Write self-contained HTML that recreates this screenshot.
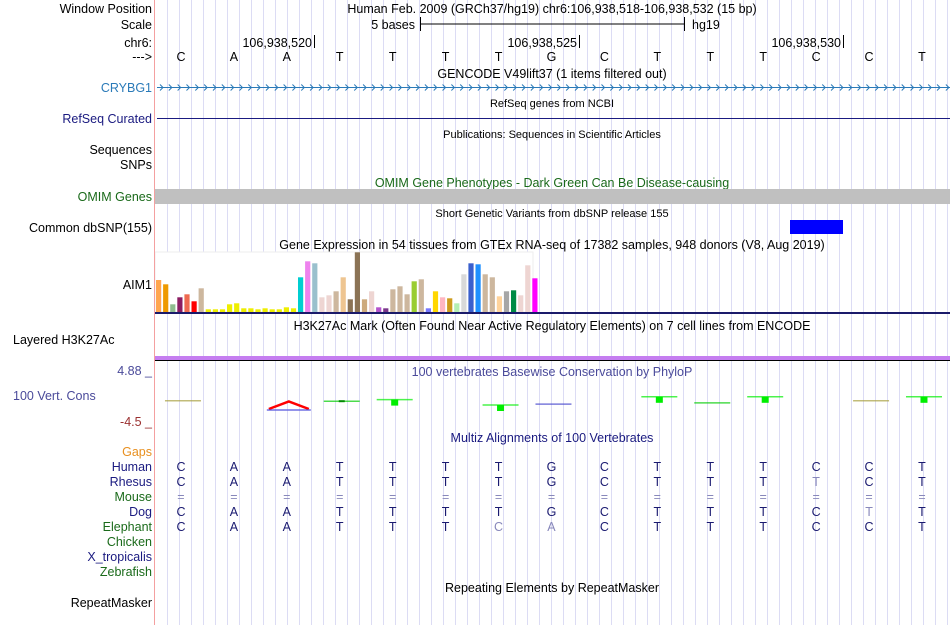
<!DOCTYPE html>
<html><head><meta charset="utf-8">
<style>
html,body{margin:0;padding:0;background:#fff;}
svg{display:block;font-family:"Liberation Sans",sans-serif;}
</style></head>
<body>
<svg id="root" width="950" height="625" viewBox="0 0 950 625" xmlns="http://www.w3.org/2000/svg">
<g id="grid"></g>
<rect x="155" y="252" width="378" height="60" fill="#fff" stroke="#eee"/>
<line x1="154.5" y1="0" x2="154.5" y2="625" stroke="#f4a0a0" stroke-width="1"/>

<g font-size="12.5" text-anchor="end" fill="#000">
<text x="152" y="13">Window Position</text>
<text x="152" y="29">Scale</text>
<text x="152" y="47">chr6:</text>
<text x="152" y="61">---&gt;</text>
<text x="152" y="92" fill="#2a7ab8">CRYBG1</text>
<text x="152" y="123" fill="#1a1a80">RefSeq Curated</text>
<text x="152" y="154">Sequences</text>
<text x="152" y="169">SNPs</text>
<text x="152" y="201" fill="#1a6a1a">OMIM Genes</text>
<text x="152" y="232">Common dbSNP(155)</text>
<text x="152" y="289">AIM1</text>
<text x="152" y="456" fill="#e89020">Gaps</text>
<text x="152" y="471" fill="#1a1a80">Human</text>
<text x="152" y="486" fill="#1a1a80">Rhesus</text>
<text x="152" y="501" fill="#1a6a1a">Mouse</text>
<text x="152" y="516" fill="#1a1a80">Dog</text>
<text x="152" y="531" fill="#1a6a1a">Elephant</text>
<text x="152" y="546" fill="#1a6a1a">Chicken</text>
<text x="152" y="561" fill="#1a1a80">X_tropicalis</text>
<text x="152" y="576" fill="#1a6a1a">Zebrafish</text>
<text x="152" y="607">RepeatMasker</text>
<text x="152" y="375" fill="#4a4a9a">4.88 _</text>
<text x="152" y="426" fill="#9a3030">-4.5 _</text>
</g>
<text x="13" y="344" font-size="12.5">Layered H3K27Ac</text>
<text x="13" y="400" font-size="12.5" fill="#4a4a9a">100 Vert. Cons</text>

<g font-size="12.5" text-anchor="middle">
<text x="552" y="13">Human Feb. 2009 (GRCh37/hg19)   chr6:106,938,518-106,938,532 (15 bp)</text>
<text x="552" y="78">GENCODE V49lift37 (1 items filtered out)</text>
<text x="552" y="107" font-size="11">RefSeq genes from NCBI</text>
<text x="552" y="138" font-size="11">Publications: Sequences in Scientific Articles</text>
<text x="552" y="187" fill="#1a6a1a">OMIM Gene Phenotypes - Dark Green Can Be Disease-causing</text>
<text x="552" y="217" font-size="11">Short Genetic Variants from dbSNP release 155</text>
<text x="552" y="249">Gene Expression in 54 tissues from GTEx RNA-seq of 17382 samples, 948 donors (V8, Aug 2019)</text>
<text x="552" y="330">H3K27Ac Mark (Often Found Near Active Regulatory Elements) on 7 cell lines from ENCODE</text>
<text x="552" y="376" fill="#4a4a9a">100 vertebrates Basewise Conservation by PhyloP</text>
<text x="552" y="442" fill="#1a1a80">Multiz Alignments of 100 Vertebrates</text>
<text x="552" y="592">Repeating Elements by RepeatMasker</text>
</g>

<g font-size="12.5">
<text x="415" y="29" text-anchor="end">5 bases</text>
<line x1="420" y1="24" x2="684" y2="24" stroke="#000"/>
<line x1="420.5" y1="17" x2="420.5" y2="31" stroke="#000"/>
<line x1="684.5" y1="17" x2="684.5" y2="31" stroke="#000"/>
<text x="692" y="29">hg19</text>
</g>
<g font-size="12.5" text-anchor="end">
<text x="312" y="47">106,938,520</text><line x1="314.5" y1="35" x2="314.5" y2="48" stroke="#000"/>
<text x="577" y="47">106,938,525</text><line x1="579.5" y1="35" x2="579.5" y2="48" stroke="#000"/>
<text x="841" y="47">106,938,530</text><line x1="843.5" y1="35" x2="843.5" y2="48" stroke="#000"/>
</g>
<g id="bases" font-size="12.5" text-anchor="middle"></g>

<g id="crybg1"><line x1="157" y1="87.5" x2="950" y2="87.5" stroke="#2a7ab8"/></g>
<line x1="157" y1="118.5" x2="950" y2="118.5" stroke="#1a1a80"/>
<rect x="155" y="189" width="795" height="15" fill="#c0c0c0"/>
<rect x="790" y="220" width="53" height="14" fill="#0000ff"/>
<g id="gtex"></g>
<rect x="155" y="312" width="795" height="2" fill="#1a1a6a"/>
<rect x="155" y="356" width="795" height="4" fill="#c57ef0"/>
<line x1="155" y1="360.5" x2="950" y2="360.5" stroke="#000"/>
<g id="phylop"></g>
<g id="multiz" font-size="12.5" text-anchor="middle"></g>
</svg>
<script>
const NS="http://www.w3.org/2000/svg";
const refBases=["C","A","A","T","T","T","T","G","C","T","T","T","C","C","T"];
const rhesusBases=["C","A","A","T","T","T","T","G","C","T","T","T","T","C","T"];
const dogBases=["C","A","A","T","T","T","T","G","C","T","T","T","C","T","T"];
const elephantBases=["C","A","A","T","T","T","C","A","C","T","T","T","C","C","T"];
const gtexValues=[32,27.7,7.7,14.7,17.7,10.7,23.7,2.7,2.7,2.7,7.7,8.7,3.7,3.7,2.7,3.7,2.7,2.7,4.7,3.7,34.7,50.7,48.7,14.7,16.7,20.7,34.7,12.7,59.7,12.7,20.7,4.7,3.7,22.7,25.7,17.7,30.7,32.7,3.7,20.7,14.7,13.7,8.7,37.7,48.7,47.7,37.7,34.7,15.7,20.7,21.7,16.7,46.7,33.7];
const gtexColors=["#FFA54F","#EE9A00","#8FBC8F","#8B1C62","#EE6A50","#FF0000","#CDB79E","#EEEE00","#EEEE00","#EEEE00","#EEEE00","#EEEE00","#EEEE00","#EEEE00","#EEEE00","#EEEE00","#EEEE00","#EEEE00","#EEEE00","#EEEE00","#00CED1","#EE82EE","#9AC0CD","#EED5D2","#EED5D2","#CDB79E","#EEC591","#8B7355","#8B7355","#CDAA7D","#EED5D2","#B452CD","#7A378B","#CDB79E","#CDB79E","#CDB79E","#9ACD32","#CDB79E","#7777FF","#FFD700","#FFB6C1","#CD9B1D","#B4EEB4","#D9D9D9","#3A5FCD","#1E90FF","#CDB79E","#CDB79E","#FFD39B","#A6A6A6","#008B45","#EED5D2","#EED5D2","#FF00FF"];
const phylopValues=[0.6,null,-1.8,0.4,1.2,null,-1.0,-0.7,null,2.6,-0.3,2.6,null,0.6,2.6];
const phylopColors=["#a8a040",null,"#ff0000","#00cc00","#00ee00",null,"#00ee00","#4444cc",null,"#00ee00","#00cc00","#00ee00",null,"#a8a040","#00ee00"];

const x0=154.5, bw=52.93;
function xBase(i){return x0+bw*(i+0.5);}
function mk(tag,attrs,parent){const e=document.createElementNS(NS,tag);for(const k in attrs)e.setAttribute(k,attrs[k]);parent.appendChild(e);return e;}

const grid=document.getElementById('grid');
for(let x=167.5;x<950;x+=12){
  const l=mk('line',{x1:x,y1:0,x2:x,y2:625,stroke:'#dcdcf4','stroke-width':1},grid);
  
  
}
const bases=document.getElementById('bases');
refBases.forEach((b,i)=>{
  const t=mk('text',{x:xBase(i),y:61},bases);t.textContent=b;
  
  
});
const cr=document.getElementById('crybg1');
for(let x=160;x<948;x+=8.83){
  mk('path',{d:`M${x},84.5 L${x+3},87.5 L${x},90.5`,fill:'none',stroke:'#2a7ab8','stroke-width':1},cr);
}
const gtex=document.getElementById('gtex');
const gBase=312, gStep=7.1, gX=156;
function yG(v){return gBase-v;}
gtexValues.forEach((v,i)=>{
  const r=mk('rect',{x:gX+i*gStep,y:yG(v),width:5.2,height:gBase-yG(v),fill:gtexColors[i]},gtex);
  
  
});
const ph=document.getElementById('phylop');
const pMid=402;
function yP(v){return pMid-v*2;}
phylopValues.forEach((v,i)=>{
  if(v===null)return;
  const c=phylopColors[i], xc=xBase(i)+2, y=yP(v);
  if(v<-1.5){
    const apex=pMid+v*0.3;
    const p=mk('path',{d:`M${xc-20},${pMid+7} L${xc},${apex} L${xc+20},${pMid+7}`,fill:'none',stroke:c,'stroke-width':2.5},ph);
    
    
    mk('line',{x1:xc-22,y1:pMid+8,x2:xc+22,y2:pMid+8,stroke:'#5555dd','stroke-width':1.3},ph);
    return;
  }
  const ly=v>0?pMid-v*2:pMid+Math.abs(v)*3;
  const l=mk('line',{x1:xc-18,y1:ly,x2:xc+18,y2:ly,stroke:c,'stroke-opacity':0.7,'stroke-width':1.5},ph);
  
  
  if(Math.abs(v)>=1){mk('rect',{x:xc-3.5,y:ly,width:7,height:6,fill:c},ph);}
  else if(Math.abs(v)>0.3 && c==="#00cc00"){mk('rect',{x:xc-3,y:ly-1,width:6,height:2,fill:'#008800'},ph);}
});
const mz=document.getElementById('multiz');
const dark='#1a1a70', light='#8888bb';
function row(arr,y,name){
  arr.forEach((b,i)=>{
    const t=mk('text',{x:xBase(i),y:y,fill:(b===refBases[i]?dark:light)},mz);
    t.textContent=b;
    
    
  });
}
row(refBases,471,'human');
row(rhesusBases,486,'rhesus');
refBases.forEach((b,i)=>{
  const t=mk('text',{x:xBase(i),y:501,fill:light},mz);t.textContent='=';
  
  
});
row(dogBases,516,'dog');
row(elephantBases,531,'elephant');
</script>
</body></html>
